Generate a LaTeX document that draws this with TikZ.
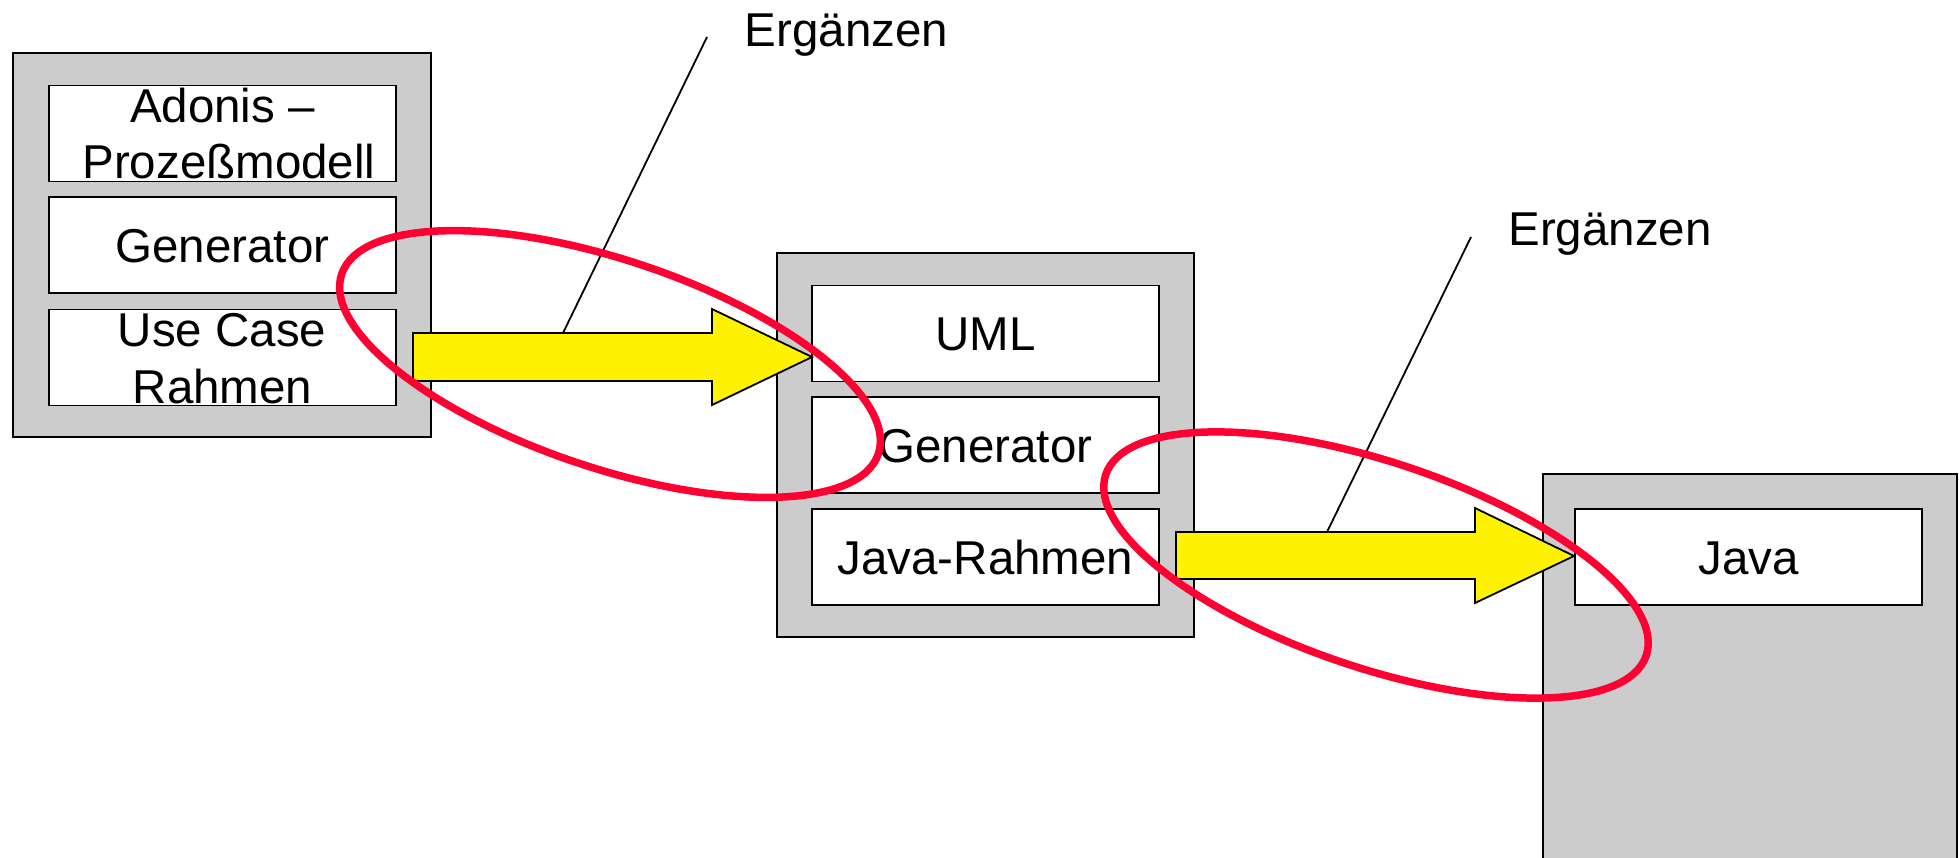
\documentclass[tikz,border=0pt]{standalone}
\usepackage{fontspec}
\setmainfont{Liberation Sans}
\definecolor{boxgrey}{RGB}{204,204,204}
\definecolor{ringred}{RGB}{255,0,51}
\begin{document}
\begin{tikzpicture}[x=1pt,y=-1pt,
  frame/.style={draw=black, fill=boxgrey, line width=1.8pt, inner sep=0pt},
  cell/.style={draw=black, fill=white, line width=1.8pt, minimum width=347pt, minimum height=96pt, inner sep=0pt, text height=34pt, text depth=0pt, font=\fontsize{47.5}{56}\selectfont},
  lbl/.style={inner sep=0pt, anchor=base, font=\fontsize{47.5}{56}\selectfont},
  blockarrow/.style={draw=black, fill=yellow, line width=1.8pt, line join=miter},
  ring/.style={draw=ringred, line width=7.5pt},
  leader/.style={draw=black, line width=1.8pt}]
\useasboundingbox (0,0) rectangle (1959,857);
\clip (0,0) rectangle (1959,857);

% outer frames
\node[frame, minimum width=418pt, minimum height=384pt] (f1) at (222,245) {};
\node[frame, minimum width=417pt, minimum height=384pt] (f2) at (985.5,445) {};
\node[frame, minimum width=414pt, minimum height=432pt] (f3) at (1750,690) {};

% cells
\node[cell] (a1) at (222.5,133.5) {};
\node[cell] (a2) at (222.5,245) {Generator};
\node[cell] (a3) at (222.5,357.5) {};
\node[cell] (b1) at (985.5,333.5) {UML};
\node[cell] (b2) at (985.5,445) {Generator};
\node[cell] (b3) at (985.5,557) {Java-Rahmen};
\node[cell] (c1) at (1748.5,557) {Java};

% two-line texts
\node[lbl] (a1t1) at (222.5,122) {Adonis –};
\node[lbl] (a1t2) at (229,178) {Prozeßmodell};
\node[lbl] (a3t1) at (222,346) {Use Case};
\node[lbl] (a3t2) at (222.5,403) {Rahmen};

% block arrows
\draw[blockarrow] (413,333) -- (712,333) -- (712,309) -- (812,357) -- (712,405) -- (712,381) -- (413,381) -- cycle;
\draw[blockarrow] (1176,532) -- (1475,532) -- (1475,508) -- (1574,556) -- (1475,603) -- (1475,579) -- (1176,579) -- cycle;

% leader lines and labels
\node[lbl] (erg1) at (846.5,46) {Ergänzen};
\node[lbl] (erg2) at (1610,245) {Ergänzen};
\coordinate (l1top) at (707,37);
\coordinate (l1bot) at (563,333);
\coordinate (l2top) at (1471,237);
\coordinate (l2bot) at (1327,532);
\draw[leader] (l1top) -- (l1bot);
\draw[leader] (l2top) -- (l2bot);

% red rings
\draw[ring, rotate around={-18.5:(610,364)}] (610,364) ellipse [x radius=283pt, y radius=104pt];
\draw[ring, rotate around={-18.5:(1376,565)}] (1376,565) ellipse [x radius=285pt, y radius=103pt];
\end{tikzpicture}
\end{document}
